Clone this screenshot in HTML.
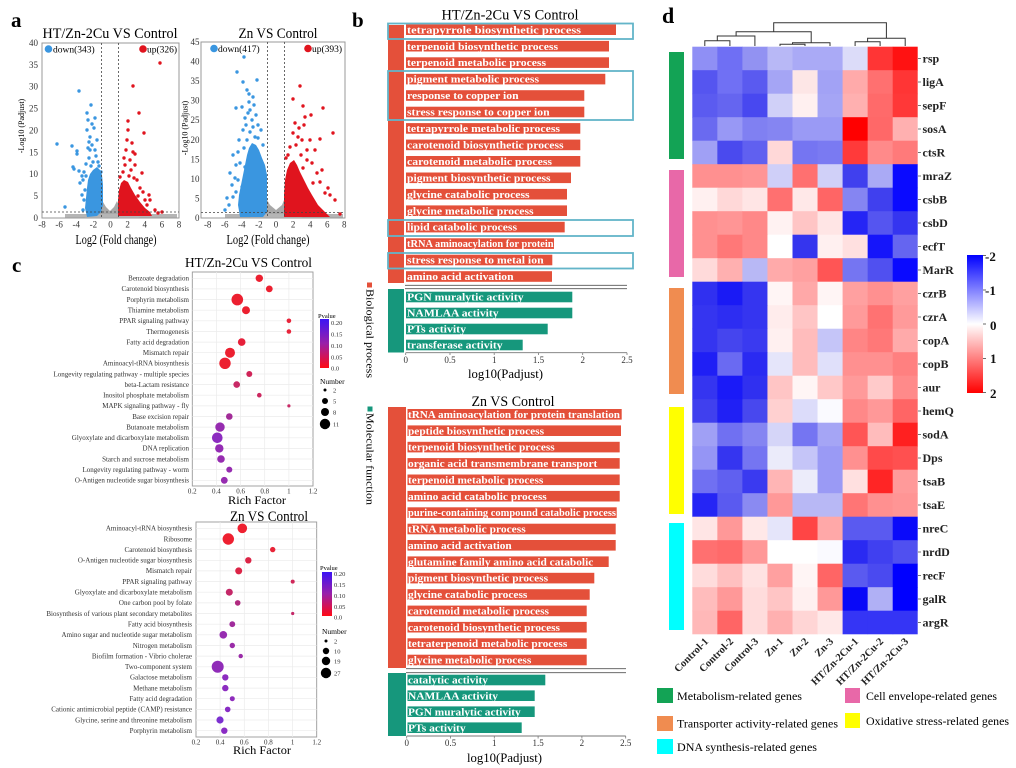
<!DOCTYPE html>
<html><head><meta charset="utf-8"><style>
html,body{margin:0;padding:0;background:#fff;}
svg{display:block;font-family:"Liberation Serif",serif;}
.bt{font-weight:bold;fill:#fff;font-size:11px;}
.cl{font-size:7px;fill:#333;text-anchor:end;}
.tk{font-size:9px;fill:#333;}
.gl{font-size:12px;font-weight:bold;fill:#222;}
</style></head><body>
<svg width="1016" height="768" viewBox="0 0 1016 768" xmlns="http://www.w3.org/2000/svg">
<defs>
<linearGradient id="pv" x1="0" y1="0" x2="0" y2="1"><stop offset="0" stop-color="#3c14f5"/><stop offset="0.5" stop-color="#9a20a8"/><stop offset="1" stop-color="#ff0a14"/></linearGradient>
<linearGradient id="hm" x1="0" y1="0" x2="0" y2="1"><stop offset="0" stop-color="#0000ff"/><stop offset="0.5" stop-color="#ffffff"/><stop offset="1" stop-color="#ff0000"/></linearGradient>
</defs>
<rect width="1016" height="768" fill="#fff"/>

<!-- ============ PANEL A ============ -->
<text x="11" y="27" font-size="21" font-weight="bold">a</text>
<text x="110" y="38" font-size="14.5" text-anchor="middle" textLength="135" lengthAdjust="spacingAndGlyphs">HT/Zn-2Cu VS Control</text>
<text x="278" y="38" font-size="14.5" text-anchor="middle" textLength="79" lengthAdjust="spacingAndGlyphs">Zn VS Control</text>

<!-- plot 1 -->
<g>
<rect x="42" y="43" width="137" height="175" fill="#fff" stroke="#999" stroke-width="1"/>
<polygon points="84,218 95,214 100,209 103,202 106,207 110,211 114,207 117,201 120,208 126,214 140,218" fill="#a8a8a8"/>
<rect x="65" y="214" width="112" height="3.5" fill="#b5b5b5"/>
<polygon points="87,217 85,208 86,198 87,188 88,180 90,174 93,170 97,167 100,170 102,175 103,185 103,205 101,212 97,216" fill="#3a96e0"/>
<g fill="#3a96e0">
<circle cx="57" cy="144" r="1.7"/><circle cx="72" cy="146" r="1.7"/><circle cx="77" cy="151" r="1.7"/><circle cx="73" cy="167" r="1.7"/><circle cx="74" cy="169" r="1.7"/><circle cx="79" cy="171" r="1.7"/><circle cx="80" cy="183" r="1.7"/><circle cx="65" cy="207" r="1.7"/><circle cx="79" cy="91" r="1.7"/><circle cx="91" cy="105" r="1.7"/><circle cx="87" cy="113" r="1.7"/><circle cx="88" cy="120" r="1.7"/><circle cx="87" cy="130" r="1.7"/><circle cx="90" cy="137" r="1.7"/><circle cx="77" cy="154" r="1.7"/><circle cx="82" cy="176" r="1.7"/><circle cx="92" cy="145" r="1.7"/><circle cx="95" cy="150" r="1.7"/><circle cx="89" cy="158" r="1.7"/><circle cx="93" cy="162" r="1.7"/><circle cx="86" cy="164" r="1.7"/><circle cx="96" cy="156" r="1.7"/><circle cx="90" cy="150" r="1.7"/><circle cx="94" cy="128" r="1.7"/><circle cx="97" cy="140" r="1.7"/><circle cx="84" cy="172" r="1.7"/><circle cx="83" cy="180" r="1.7"/><circle cx="85" cy="190" r="1.7"/><circle cx="82" cy="195" r="1.7"/><circle cx="95" cy="118" r="1.7"/><circle cx="92" cy="124" r="1.7"/><circle cx="89" cy="142" r="1.7"/><circle cx="98" cy="162" r="1.7"/><circle cx="88" cy="148" r="1.7"/><circle cx="99" cy="166" r="1.7"/><circle cx="91" cy="166" r="1.7"/><circle cx="84" cy="200" r="1.7"/><circle cx="83" cy="210" r="1.7"/><circle cx="86" cy="176" r="1.7"/><circle cx="101" cy="172" r="1.7"/>
</g>
<polygon points="118,216 118,200 119,190 121,183 124,180 128,182 131,188 135,195 140,202 145,208 150,212 152,216" fill="#e0141e"/>
<g fill="#e0141e">
<circle cx="160" cy="63" r="1.7"/><circle cx="133" cy="86" r="1.7"/><circle cx="139" cy="113" r="1.7"/><circle cx="144" cy="133" r="1.7"/><circle cx="128" cy="121" r="1.7"/><circle cx="128" cy="130" r="1.7"/><circle cx="133" cy="152" r="1.7"/><circle cx="135" cy="154" r="1.7"/><circle cx="142" cy="173" r="1.7"/><circle cx="137" cy="180" r="1.7"/><circle cx="149" cy="195" r="1.7"/><circle cx="145" cy="200" r="1.7"/><circle cx="127" cy="140" r="1.7"/><circle cx="132" cy="143" r="1.7"/><circle cx="126" cy="150" r="1.7"/><circle cx="130" cy="160" r="1.7"/><circle cx="125" cy="165" r="1.7"/><circle cx="135" cy="165" r="1.7"/><circle cx="123" cy="172" r="1.7"/><circle cx="140" cy="188" r="1.7"/><circle cx="147" cy="205" r="1.7"/><circle cx="155" cy="210" r="1.7"/><circle cx="138" cy="196" r="1.7"/><circle cx="131" cy="170" r="1.7"/><circle cx="124" cy="158" r="1.7"/><circle cx="129" cy="176" r="1.7"/><circle cx="150" cy="200" r="1.7"/><circle cx="158" cy="213" r="1.7"/><circle cx="162" cy="212" r="1.7"/><circle cx="120" cy="177" r="1.7"/><circle cx="134" cy="178" r="1.7"/><circle cx="143" cy="192" r="1.7"/><circle cx="126" cy="184" r="1.7"/>
</g>
<g stroke="#444" stroke-width="0.8" stroke-dasharray="2,2">
<line x1="101.5" y1="43" x2="101.5" y2="218"/><line x1="118.6" y1="43" x2="118.6" y2="218"/><line x1="42" y1="212" x2="179" y2="212"/>
</g>
<circle cx="48.5" cy="49" r="3.8" fill="#3a96e0"/><text x="53" y="52.5" font-size="9.5">down(343)</text>
<circle cx="143" cy="49" r="3.8" fill="#e0141e"/><text x="147" y="52.5" font-size="9.5">up(326)</text>
<g class="tk" text-anchor="end" font-size="9">
<text x="38" y="221">0</text><text x="38" y="199">5</text><text x="38" y="177">10</text><text x="38" y="155.4">15</text><text x="38" y="133.5">20</text><text x="38" y="111.6">25</text><text x="38" y="89.7">30</text><text x="38" y="67.9">35</text><text x="38" y="46">40</text>
</g>
<g class="tk" text-anchor="middle" font-size="9">
<text x="42" y="227.5">-8</text><text x="59.1" y="227.5">-6</text><text x="76.3" y="227.5">-4</text><text x="93.4" y="227.5">-2</text><text x="110.5" y="227.5">0</text><text x="127.6" y="227.5">2</text><text x="144.8" y="227.5">4</text><text x="161.9" y="227.5">6</text><text x="179" y="227.5">8</text>
</g>
<text x="116" y="244" font-size="13.5" text-anchor="middle" textLength="81" lengthAdjust="spacingAndGlyphs">Log2 (Fold change)</text>
<text transform="translate(24,126) rotate(-90)" font-size="8" text-anchor="middle">-Log10 (Padjust)</text>
</g>

<!-- plot 2 -->
<g>
<rect x="201" y="42" width="144" height="176" fill="#fff" stroke="#999" stroke-width="1"/>
<polygon points="250,218 262,210 266,198 270,205 276,210 282,205 286,195 290,210 302,218" fill="#a8a8a8"/>
<rect x="225" y="214" width="118" height="3.5" fill="#b5b5b5"/>
<polygon points="240,217 238,205 239,195 241,185 243,175 245,165 247,155 249,148 252,143 256,145 259,150 262,158 265,165 267,175 267,212 263,217" fill="#3a96e0"/>
<g fill="#3a96e0">
<circle cx="244" cy="57" r="1.7"/><circle cx="237" cy="72" r="1.7"/><circle cx="257" cy="80" r="1.7"/><circle cx="243" cy="82" r="1.7"/><circle cx="247" cy="90" r="1.7"/><circle cx="249" cy="94" r="1.7"/><circle cx="253" cy="97" r="1.7"/><circle cx="242" cy="107" r="1.7"/><circle cx="236" cy="108" r="1.7"/><circle cx="249" cy="102" r="1.7"/><circle cx="261" cy="130" r="1.7"/><circle cx="238" cy="152" r="1.7"/><circle cx="233" cy="155" r="1.7"/><circle cx="230" cy="173" r="1.7"/><circle cx="238" cy="180" r="1.7"/><circle cx="227" cy="198" r="1.7"/><circle cx="233" cy="197" r="1.7"/><circle cx="242" cy="187" r="1.7"/><circle cx="248" cy="113" r="1.7"/><circle cx="252" cy="120" r="1.7"/><circle cx="253" cy="127" r="1.7"/><circle cx="247" cy="140" r="1.7"/><circle cx="255" cy="137" r="1.7"/><circle cx="240" cy="163" r="1.7"/><circle cx="245" cy="167" r="1.7"/><circle cx="250" cy="110" r="1.7"/><circle cx="245" cy="118" r="1.7"/><circle cx="256" cy="115" r="1.7"/><circle cx="258" cy="125" r="1.7"/><circle cx="243" cy="130" r="1.7"/><circle cx="250" cy="132" r="1.7"/><circle cx="239" cy="140" r="1.7"/><circle cx="236" cy="165" r="1.7"/><circle cx="232" cy="185" r="1.7"/><circle cx="236" cy="192" r="1.7"/><circle cx="229" cy="205" r="1.7"/><circle cx="225" cy="210" r="1.7"/><circle cx="246" cy="125" r="1.7"/><circle cx="258" cy="138" r="1.7"/><circle cx="254" cy="105" r="1.7"/><circle cx="263" cy="145" r="1.7"/><circle cx="244" cy="148" r="1.7"/><circle cx="235" cy="178" r="1.7"/>
</g>
<polygon points="284,217 284,195 285,180 287,170 290,163 294,160 297,165 300,172 304,180 308,188 312,195 318,205 325,212 330,217" fill="#e0141e"/>
<g fill="#e0141e">
<circle cx="300" cy="86" r="1.7"/><circle cx="293" cy="99" r="1.7"/><circle cx="303" cy="106" r="1.7"/><circle cx="323" cy="108" r="1.7"/><circle cx="311" cy="115" r="1.7"/><circle cx="333" cy="133" r="1.7"/><circle cx="320" cy="139" r="1.7"/><circle cx="295" cy="123" r="1.7"/><circle cx="298" cy="137" r="1.7"/><circle cx="302" cy="140" r="1.7"/><circle cx="310" cy="140" r="1.7"/><circle cx="307" cy="150" r="1.7"/><circle cx="325" cy="193" r="1.7"/><circle cx="330" cy="195" r="1.7"/><circle cx="320" cy="182" r="1.7"/><circle cx="313" cy="183" r="1.7"/><circle cx="317" cy="173" r="1.7"/><circle cx="312" cy="163" r="1.7"/><circle cx="307" cy="160" r="1.7"/><circle cx="290" cy="147" r="1.7"/><circle cx="293" cy="133" r="1.7"/><circle cx="299" cy="128" r="1.7"/><circle cx="304" cy="125" r="1.7"/><circle cx="296" cy="145" r="1.7"/><circle cx="288" cy="155" r="1.7"/><circle cx="315" cy="150" r="1.7"/><circle cx="322" cy="170" r="1.7"/><circle cx="328" cy="188" r="1.7"/><circle cx="335" cy="200" r="1.7"/><circle cx="312" cy="205" r="1.7"/><circle cx="318" cy="210" r="1.7"/><circle cx="340" cy="214" r="1.7"/><circle cx="305" cy="117" r="1.7"/><circle cx="301" cy="155" r="1.7"/><circle cx="286" cy="158" r="1.7"/><circle cx="303" cy="168" r="1.7"/>
</g>
<g stroke="#444" stroke-width="0.8" stroke-dasharray="2,2">
<line x1="267.5" y1="42" x2="267.5" y2="218"/><line x1="284.5" y1="42" x2="284.5" y2="218"/><line x1="201" y1="212.5" x2="345" y2="212.5"/>
</g>
<circle cx="214" cy="48.5" r="3.8" fill="#3a96e0"/><text x="218" y="52" font-size="9.5">down(417)</text>
<circle cx="308" cy="48.5" r="3.8" fill="#e0141e"/><text x="312" y="52" font-size="9.5">up(393)</text>
<g class="tk" text-anchor="end" font-size="8.5">
<text x="199.5" y="221">0</text><text x="199.5" y="201.4">5</text><text x="199.5" y="181.9">10</text><text x="199.5" y="162.3">15</text><text x="199.5" y="142.8">20</text><text x="199.5" y="123.2">25</text><text x="199.5" y="103.7">30</text><text x="199.5" y="84.1">35</text><text x="199.5" y="64.6">40</text><text x="199.5" y="45">45</text>
</g>
<g class="tk" text-anchor="middle" font-size="9">
<text x="207.7" y="227.5">-8</text><text x="224.8" y="227.5">-6</text><text x="241.8" y="227.5">-4</text><text x="258.9" y="227.5">-2</text><text x="276" y="227.5">0</text><text x="293.1" y="227.5">2</text><text x="310.2" y="227.5">4</text><text x="327.2" y="227.5">6</text><text x="344.3" y="227.5">8</text>
</g>
<text x="268" y="244" font-size="13.5" text-anchor="middle" textLength="83" lengthAdjust="spacingAndGlyphs">Log2 (Fold change)</text>
<text transform="translate(187.5,128) rotate(-90)" font-size="8" text-anchor="middle">-Log10 (Padjust)</text>
</g>

<!-- ============ PANEL B ============ -->
<text x="352" y="27" font-size="21" font-weight="bold">b</text>
<text x="510" y="19.5" font-size="14.5" text-anchor="middle" textLength="137" lengthAdjust="spacingAndGlyphs">HT/Zn-2Cu VS Control</text>
<rect x="388" y="25" width="16" height="258" fill="#e4503a"/>
<g fill="#e4503a">
<rect x="406" y="24.4" width="210" height="10.6"/>
<rect x="406" y="40.9" width="203" height="10.6"/>
<rect x="406" y="57.3" width="203" height="10.6"/>
<rect x="406" y="73.8" width="199.3" height="10.6"/>
<rect x="406" y="90.2" width="178.3" height="10.6"/>
<rect x="406" y="106.7" width="178.3" height="10.6"/>
<rect x="406" y="123.1" width="174.3" height="10.6"/>
<rect x="406" y="139.6" width="174.3" height="10.6"/>
<rect x="406" y="156" width="174.3" height="10.6"/>
<rect x="406" y="172.5" width="165" height="10.6"/>
<rect x="406" y="188.9" width="161" height="10.6"/>
<rect x="406" y="205.4" width="161" height="10.6"/>
<rect x="406" y="221.8" width="158.7" height="10.6"/>
<rect x="406" y="238.3" width="148" height="10.6"/>
<rect x="406" y="254.7" width="146.3" height="10.6"/>
<rect x="406" y="271.2" width="146" height="10.6"/>
</g>
<g class="bt">
<text x="407" y="33.3" textLength="174" lengthAdjust="spacingAndGlyphs">tetrapyrrole biosynthetic process</text>
<text x="407" y="49.8" textLength="151" lengthAdjust="spacingAndGlyphs">terpenoid biosynthetic process</text>
<text x="407" y="66.2" textLength="139" lengthAdjust="spacingAndGlyphs">terpenoid metabolic process</text>
<text x="407" y="82.7" textLength="132" lengthAdjust="spacingAndGlyphs">pigment metabolic process</text>
<text x="407" y="99.1" textLength="111.6" lengthAdjust="spacingAndGlyphs">response to copper ion</text>
<text x="407" y="115.6" textLength="142.6" lengthAdjust="spacingAndGlyphs">stress response to copper ion</text>
<text x="407" y="132" textLength="153" lengthAdjust="spacingAndGlyphs">tetrapyrrole metabolic process</text>
<text x="407" y="148.5" textLength="156.6" lengthAdjust="spacingAndGlyphs">carotenoid biosynthetic process</text>
<text x="407" y="164.9" textLength="145" lengthAdjust="spacingAndGlyphs">carotenoid metabolic process</text>
<text x="407" y="181.4" textLength="143.6" lengthAdjust="spacingAndGlyphs">pigment biosynthetic process</text>
<text x="407" y="197.8" textLength="122.6" lengthAdjust="spacingAndGlyphs">glycine catabolic process</text>
<text x="407" y="214.3" textLength="126.6" lengthAdjust="spacingAndGlyphs">glycine metabolic process</text>
<text x="407" y="230.7" textLength="110" lengthAdjust="spacingAndGlyphs">lipid catabolic process</text>
<text x="407" y="247.2" textLength="146.6" lengthAdjust="spacingAndGlyphs">tRNA aminoacylation for protein</text>
<text x="407" y="263.6" textLength="136.6" lengthAdjust="spacingAndGlyphs">stress response to metal ion</text>
<text x="407" y="280.1" textLength="106.6" lengthAdjust="spacingAndGlyphs">amino acid activation</text>
</g>
<line x1="405" y1="285.3" x2="627" y2="285.3" stroke="#555" stroke-width="0.9"/>
<line x1="405" y1="288.7" x2="627" y2="288.7" stroke="#555" stroke-width="0.9"/>
<rect x="388" y="289" width="16" height="63.5" fill="#16977c"/>
<g fill="#16977c">
<rect x="406" y="291.7" width="166.3" height="10.6"/>
<rect x="406" y="307.7" width="166.3" height="10.6"/>
<rect x="406" y="323.7" width="141.7" height="10.6"/>
<rect x="406" y="339.7" width="116.7" height="10.6"/>
</g>
<g class="bt">
<text x="407" y="300.6" textLength="116.6" lengthAdjust="spacingAndGlyphs">PGN muralytic activity</text>
<text x="407" y="316.6" textLength="91.6" lengthAdjust="spacingAndGlyphs">NAMLAA activity</text>
<text x="407" y="332.6" textLength="59" lengthAdjust="spacingAndGlyphs">PTs activity</text>
<text x="407" y="348.6" textLength="95.6" lengthAdjust="spacingAndGlyphs">transferase activity</text>
</g>
<g fill="none" stroke="#63b5c9" stroke-width="1.8">
<rect x="388" y="23.5" width="245" height="15.5"/>
<rect x="388" y="71" width="245" height="49"/>
<rect x="388" y="220" width="245" height="16"/>
<rect x="388" y="253" width="245" height="15.5"/>
</g>
<line x1="405.7" y1="352.7" x2="627" y2="352.7" stroke="#777" stroke-width="0.9"/>
<g stroke="#777" stroke-width="0.8">
<line x1="405.7" y1="352.7" x2="405.7" y2="355"/><line x1="450" y1="352.7" x2="450" y2="355"/><line x1="494.2" y1="352.7" x2="494.2" y2="355"/><line x1="538.5" y1="352.7" x2="538.5" y2="355"/><line x1="582.7" y1="352.7" x2="582.7" y2="355"/><line x1="627" y1="352.7" x2="627" y2="355"/>
</g>
<g class="tk" text-anchor="middle" font-size="9">
<text x="405.7" y="363">0</text><text x="450" y="363">0.5</text><text x="494.2" y="363">1</text><text x="538.5" y="363">1.5</text><text x="582.7" y="363">2</text><text x="627" y="363">2.5</text>
</g>
<text x="505.5" y="378" font-size="12.5" text-anchor="middle" textLength="75" lengthAdjust="spacingAndGlyphs">log10(Padjust)</text>

<rect x="367" y="282.5" width="5" height="5" fill="#e4503a"/>
<text transform="translate(366.5,289) rotate(90)" font-size="11" textLength="89" lengthAdjust="spacingAndGlyphs">Biological process</text>
<rect x="367.5" y="406.5" width="5" height="5" fill="#16977c"/>
<text transform="translate(366.5,413) rotate(90)" font-size="11" textLength="92" lengthAdjust="spacingAndGlyphs">Molecular function</text>

<!-- Zn chart -->
<text x="513" y="406" font-size="14.5" text-anchor="middle" textLength="83" lengthAdjust="spacingAndGlyphs">Zn VS Control</text>
<rect x="388" y="407" width="18" height="261" fill="#e4503a"/>
<g fill="#e4503a">
<rect x="407.5" y="409" width="214.2" height="10.6"/>
<rect x="407.5" y="425.4" width="213.5" height="10.6"/>
<rect x="407.5" y="441.8" width="212.2" height="10.6"/>
<rect x="407.5" y="458.1" width="212.2" height="10.6"/>
<rect x="407.5" y="474.5" width="212.2" height="10.6"/>
<rect x="407.5" y="490.9" width="212.2" height="10.6"/>
<rect x="407.5" y="507.3" width="209.2" height="10.6"/>
<rect x="407.5" y="523.7" width="208.2" height="10.6"/>
<rect x="407.5" y="540" width="208.2" height="10.6"/>
<rect x="407.5" y="556.4" width="201.2" height="10.6"/>
<rect x="407.5" y="572.8" width="186.8" height="10.6"/>
<rect x="407.5" y="589.2" width="182.2" height="10.6"/>
<rect x="407.5" y="605.6" width="179.2" height="10.6"/>
<rect x="407.5" y="621.9" width="179.2" height="10.6"/>
<rect x="407.5" y="638.3" width="179.2" height="10.6"/>
<rect x="407.5" y="654.7" width="179.2" height="10.6"/>
</g>
<g class="bt">
<text x="408" y="417.9" textLength="212" lengthAdjust="spacingAndGlyphs">tRNA aminoacylation for protein translation</text>
<text x="408" y="434.3" textLength="136" lengthAdjust="spacingAndGlyphs">peptide biosynthetic process</text>
<text x="408" y="450.7" textLength="146.7" lengthAdjust="spacingAndGlyphs">terpenoid biosynthetic process</text>
<text x="408" y="467" textLength="189.3" lengthAdjust="spacingAndGlyphs">organic acid transmembrane transport</text>
<text x="408" y="483.4" textLength="135.3" lengthAdjust="spacingAndGlyphs">terpenoid metabolic process</text>
<text x="408" y="499.8" textLength="138.7" lengthAdjust="spacingAndGlyphs">amino acid catabolic process</text>
<text x="408" y="516.2" textLength="208" lengthAdjust="spacingAndGlyphs">purine-containing compound catabolic process</text>
<text x="408" y="532.6" textLength="117.7" lengthAdjust="spacingAndGlyphs">tRNA metabolic process</text>
<text x="408" y="548.9" textLength="103.7" lengthAdjust="spacingAndGlyphs">amino acid activation</text>
<text x="408" y="565.3" textLength="185.3" lengthAdjust="spacingAndGlyphs">glutamine family amino acid catabolic</text>
<text x="408" y="581.7" textLength="140" lengthAdjust="spacingAndGlyphs">pigment biosynthetic process</text>
<text x="408" y="598.1" textLength="119.3" lengthAdjust="spacingAndGlyphs">glycine catabolic process</text>
<text x="408" y="614.5" textLength="141" lengthAdjust="spacingAndGlyphs">carotenoid metabolic process</text>
<text x="408" y="630.8" textLength="152" lengthAdjust="spacingAndGlyphs">carotenoid biosynthetic process</text>
<text x="408" y="647.2" textLength="159.3" lengthAdjust="spacingAndGlyphs">tetraterpenoid metabolic process</text>
<text x="408" y="663.6" textLength="123.3" lengthAdjust="spacingAndGlyphs">glycine metabolic process</text>
</g>
<line x1="406" y1="668.7" x2="626" y2="668.7" stroke="#555" stroke-width="0.9"/>
<line x1="406" y1="672.7" x2="626" y2="672.7" stroke="#555" stroke-width="0.9"/>
<rect x="388" y="673" width="18" height="63" fill="#16977c"/>
<g fill="#16977c">
<rect x="407.5" y="674.7" width="137.8" height="10.6"/>
<rect x="407.5" y="690.4" width="127.2" height="10.6"/>
<rect x="407.5" y="706.4" width="127.2" height="10.6"/>
<rect x="407.5" y="722.4" width="114.2" height="10.6"/>
</g>
<g class="bt">
<text x="408" y="683.6" textLength="80" lengthAdjust="spacingAndGlyphs">catalytic activity</text>
<text x="408" y="699.3" textLength="90" lengthAdjust="spacingAndGlyphs">NAMLAA activity</text>
<text x="408" y="715.3" textLength="112.7" lengthAdjust="spacingAndGlyphs">PGN muralytic activity</text>
<text x="408" y="731.3" textLength="57.7" lengthAdjust="spacingAndGlyphs">PTs activity</text>
</g>
<line x1="406.7" y1="736" x2="625.7" y2="736" stroke="#777" stroke-width="0.9"/>
<g stroke="#777" stroke-width="0.8">
<line x1="406.7" y1="736" x2="406.7" y2="738.5"/><line x1="450.5" y1="736" x2="450.5" y2="738.5"/><line x1="494.3" y1="736" x2="494.3" y2="738.5"/><line x1="538.1" y1="736" x2="538.1" y2="738.5"/><line x1="581.9" y1="736" x2="581.9" y2="738.5"/><line x1="625.7" y1="736" x2="625.7" y2="738.5"/>
</g>
<g class="tk" text-anchor="middle" font-size="9">
<text x="406.7" y="746">0</text><text x="450.5" y="746">0.5</text><text x="494.3" y="746">1</text><text x="538.1" y="746">1.5</text><text x="581.9" y="746">2</text><text x="625.7" y="746">2.5</text>
</g>
<text x="504.5" y="762" font-size="12.5" text-anchor="middle" textLength="75" lengthAdjust="spacingAndGlyphs">log10(Padjust)</text>

<!-- ============ PANEL C ============ -->
<text x="12" y="272" font-size="21" font-weight="bold">c</text>
<text x="248.5" y="267" font-size="14" text-anchor="middle" textLength="127" lengthAdjust="spacingAndGlyphs">HT/Zn-2Cu VS Control</text>
<g>
<rect x="192.3" y="272" width="120.7" height="214" fill="#fff" stroke="#999" stroke-width="0.9"/>
<g stroke="#ebebeb" stroke-width="0.7">
<line x1="216.4" y1="272" x2="216.4" y2="486"/><line x1="240.6" y1="272" x2="240.6" y2="486"/><line x1="264.7" y1="272" x2="264.7" y2="486"/><line x1="288.9" y1="272" x2="288.9" y2="486"/>
<line x1="192.3" y1="278.3" x2="313" y2="278.3"/><line x1="192.3" y1="288.9" x2="313" y2="288.9"/><line x1="192.3" y1="299.6" x2="313" y2="299.6"/><line x1="192.3" y1="310.2" x2="313" y2="310.2"/><line x1="192.3" y1="320.8" x2="313" y2="320.8"/><line x1="192.3" y1="331.5" x2="313" y2="331.5"/><line x1="192.3" y1="342.1" x2="313" y2="342.1"/><line x1="192.3" y1="352.7" x2="313" y2="352.7"/><line x1="192.3" y1="363.3" x2="313" y2="363.3"/><line x1="192.3" y1="374" x2="313" y2="374"/><line x1="192.3" y1="384.6" x2="313" y2="384.6"/><line x1="192.3" y1="395.2" x2="313" y2="395.2"/><line x1="192.3" y1="405.9" x2="313" y2="405.9"/><line x1="192.3" y1="416.5" x2="313" y2="416.5"/><line x1="192.3" y1="427.1" x2="313" y2="427.1"/><line x1="192.3" y1="437.8" x2="313" y2="437.8"/><line x1="192.3" y1="448.4" x2="313" y2="448.4"/><line x1="192.3" y1="459" x2="313" y2="459"/><line x1="192.3" y1="469.6" x2="313" y2="469.6"/><line x1="192.3" y1="480.3" x2="313" y2="480.3"/>
</g>
<circle cx="259.3" cy="278.3" r="3.7" fill="#ec2030"/>
<circle cx="269.3" cy="288.9" r="3.4" fill="#ec2030"/>
<circle cx="237.3" cy="299.6" r="5.8" fill="#ec2030"/>
<circle cx="246" cy="310.2" r="4" fill="#ec2030"/>
<circle cx="288.9" cy="320.8" r="2.3" fill="#e8243a"/>
<circle cx="288.9" cy="331.5" r="2.3" fill="#e8243a"/>
<circle cx="241.7" cy="342.1" r="3.8" fill="#e6203a"/>
<circle cx="230" cy="352.7" r="5" fill="#ec2030"/>
<circle cx="225" cy="363.3" r="5.7" fill="#ec2030"/>
<circle cx="249.3" cy="374" r="3" fill="#d02458"/>
<circle cx="236.7" cy="384.6" r="3.3" fill="#c82a66"/>
<circle cx="259.3" cy="395.2" r="2.3" fill="#cc2860"/>
<circle cx="288.9" cy="405.9" r="1.6" fill="#c82a66"/>
<circle cx="229.3" cy="416.5" r="3.3" fill="#a22c98"/>
<circle cx="220" cy="427.1" r="4.7" fill="#962cb0"/>
<circle cx="217.3" cy="437.8" r="5.3" fill="#8c2cc0"/>
<circle cx="219.3" cy="448.4" r="4.2" fill="#942cb4"/>
<circle cx="221" cy="459" r="3.8" fill="#962cb0"/>
<circle cx="229.3" cy="469.6" r="3" fill="#962cb0"/>
<circle cx="224.3" cy="480.3" r="3.4" fill="#962cb0"/>
<g class="cl">
<text x="189" y="280.6">Benzoate degradation</text>
<text x="189" y="291.2">Carotenoid biosynthesis</text>
<text x="189" y="301.9">Porphyrin metabolism</text>
<text x="189" y="312.5">Thiamine metabolism</text>
<text x="189" y="323.1">PPAR signaling pathway</text>
<text x="189" y="333.8">Thermogenesis</text>
<text x="189" y="344.4">Fatty acid degradation</text>
<text x="189" y="355">Mismatch repair</text>
<text x="189" y="365.6">Aminoacyl-tRNA biosynthesis</text>
<text x="189" y="376.3">Longevity regulating pathway - multiple species</text>
<text x="189" y="386.9">beta-Lactam resistance</text>
<text x="189" y="397.5">Inositol phosphate metabolism</text>
<text x="189" y="408.2">MAPK signaling pathway - fly</text>
<text x="189" y="418.8">Base excision repair</text>
<text x="189" y="429.4">Butanoate metabolism</text>
<text x="189" y="440.1">Glyoxylate and dicarboxylate metabolism</text>
<text x="189" y="450.7">DNA replication</text>
<text x="189" y="461.3">Starch and sucrose metabolism</text>
<text x="189" y="471.9">Longevity regulating pathway - worm</text>
<text x="189" y="482.6">O-Antigen nucleotide sugar biosynthesis</text>
</g>
<g class="cl" style="text-anchor:middle">
<text x="192.3" y="493.5">0.2</text><text x="216.4" y="493.5">0.4</text><text x="240.6" y="493.5">0.6</text><text x="264.7" y="493.5">0.8</text><text x="288.9" y="493.5">1</text><text x="313" y="493.5">1.2</text>
</g>
<text x="257" y="504" font-size="12" text-anchor="middle" textLength="58" lengthAdjust="spacingAndGlyphs">Rich Factor</text>
<text x="318" y="318" font-size="6.5">Pvalue</text>
<rect x="320" y="319" width="9" height="49" fill="url(#pv)"/>
<g font-size="6.5" fill="#333">
<text x="331" y="325">0.20</text><text x="331" y="336.5">0.15</text><text x="331" y="348">0.10</text><text x="331" y="359.5">0.05</text><text x="331" y="370.5">0.0</text>
</g>
<text x="320" y="384" font-size="7.5">Number</text>
<circle cx="325" cy="390" r="1.5" fill="#000"/><circle cx="325" cy="401" r="3" fill="#000"/><circle cx="325" cy="412" r="4" fill="#000"/><circle cx="325" cy="424" r="5.2" fill="#000"/>
<g font-size="6.5" fill="#333"><text x="333" y="392.5">2</text><text x="333" y="403.5">5</text><text x="333" y="414.5">8</text><text x="333" y="426.5">11</text></g>
</g>

<g>
<text x="269" y="521" font-size="14.5" text-anchor="middle" textLength="78" lengthAdjust="spacingAndGlyphs">Zn VS Control</text>
<rect x="196" y="522" width="120.7" height="215" fill="#fff" stroke="#999" stroke-width="0.9"/>
<g stroke="#ebebeb" stroke-width="0.7">
<line x1="220.1" y1="522" x2="220.1" y2="737"/><line x1="244.3" y1="522" x2="244.3" y2="737"/><line x1="268.4" y1="522" x2="268.4" y2="737"/><line x1="292.6" y1="522" x2="292.6" y2="737"/>
<line x1="196" y1="528.3" x2="316.7" y2="528.3"/><line x1="196" y1="539" x2="316.7" y2="539"/><line x1="196" y1="549.6" x2="316.7" y2="549.6"/><line x1="196" y1="560.3" x2="316.7" y2="560.3"/><line x1="196" y1="570.9" x2="316.7" y2="570.9"/><line x1="196" y1="581.6" x2="316.7" y2="581.6"/><line x1="196" y1="592.2" x2="316.7" y2="592.2"/><line x1="196" y1="602.9" x2="316.7" y2="602.9"/><line x1="196" y1="613.5" x2="316.7" y2="613.5"/><line x1="196" y1="624.2" x2="316.7" y2="624.2"/><line x1="196" y1="634.8" x2="316.7" y2="634.8"/><line x1="196" y1="645.5" x2="316.7" y2="645.5"/><line x1="196" y1="656.1" x2="316.7" y2="656.1"/><line x1="196" y1="666.8" x2="316.7" y2="666.8"/><line x1="196" y1="677.4" x2="316.7" y2="677.4"/><line x1="196" y1="688.1" x2="316.7" y2="688.1"/><line x1="196" y1="698.7" x2="316.7" y2="698.7"/><line x1="196" y1="709.4" x2="316.7" y2="709.4"/><line x1="196" y1="720" x2="316.7" y2="720"/><line x1="196" y1="730.7" x2="316.7" y2="730.7"/>
</g>
<circle cx="242.3" cy="528.3" r="4.8" fill="#ee2030"/>
<circle cx="228.3" cy="539" r="5.7" fill="#ee2030"/>
<circle cx="272.7" cy="549.6" r="2.7" fill="#e82438"/>
<circle cx="248.3" cy="560.3" r="3.2" fill="#dc2446"/>
<circle cx="238.7" cy="570.9" r="3.5" fill="#dc2446"/>
<circle cx="292.7" cy="581.6" r="2" fill="#d0285a"/>
<circle cx="229.3" cy="592.2" r="3.5" fill="#c42868"/>
<circle cx="237.7" cy="602.9" r="2.8" fill="#b02a80"/>
<circle cx="292.7" cy="613.5" r="1.6" fill="#c42868"/>
<circle cx="232.3" cy="624.2" r="2.9" fill="#a02c9c"/>
<circle cx="223.3" cy="634.8" r="3.8" fill="#962cb0"/>
<circle cx="232.3" cy="645.5" r="2.7" fill="#9a2ca8"/>
<circle cx="240.7" cy="656.1" r="2.2" fill="#9a2ca8"/>
<circle cx="217.7" cy="666.8" r="6" fill="#902cb8"/>
<circle cx="225.3" cy="677.4" r="3.2" fill="#8c2cc0"/>
<circle cx="225.3" cy="688.1" r="3.2" fill="#8c2cc0"/>
<circle cx="232.3" cy="698.7" r="2.5" fill="#8e2cbc"/>
<circle cx="227.7" cy="709.4" r="2.8" fill="#882cc4"/>
<circle cx="220" cy="720" r="3.6" fill="#7c30d0"/>
<circle cx="224.3" cy="730.7" r="3.2" fill="#8a2cc4"/>
<g class="cl">
<text x="192" y="530.6">Aminoacyl-tRNA biosynthesis</text>
<text x="192" y="541.3">Ribosome</text>
<text x="192" y="551.9">Carotenoid biosynthesis</text>
<text x="192" y="562.6">O-Antigen nucleotide sugar biosynthesis</text>
<text x="192" y="573.2">Mismatch repair</text>
<text x="192" y="583.9">PPAR signaling pathway</text>
<text x="192" y="594.5">Glyoxylate and dicarboxylate metabolism</text>
<text x="192" y="605.2">One carbon pool by folate</text>
<text x="192" y="615.8">Biosynthesis of various plant secondary metabolites</text>
<text x="192" y="626.5">Fatty acid biosynthesis</text>
<text x="192" y="637.1">Amino sugar and nucleotide sugar metabolism</text>
<text x="192" y="647.8">Nitrogen metabolism</text>
<text x="192" y="658.4">Biofilm formation - Vibrio cholerae</text>
<text x="192" y="669.1">Two-component system</text>
<text x="192" y="679.7">Galactose metabolism</text>
<text x="192" y="690.4">Methane metabolism</text>
<text x="192" y="701">Fatty acid degradation</text>
<text x="192" y="711.7">Cationic antimicrobial peptide (CAMP) resistance</text>
<text x="192" y="722.3">Glycine, serine and threonine metabolism</text>
<text x="192" y="733">Porphyrin metabolism</text>
</g>
<g class="cl" style="text-anchor:middle">
<text x="196" y="744.5">0.2</text><text x="220.1" y="744.5">0.4</text><text x="244.3" y="744.5">0.6</text><text x="268.4" y="744.5">0.8</text><text x="292.6" y="744.5">1</text><text x="316.7" y="744.5">1.2</text>
</g>
<text x="262" y="754" font-size="12" text-anchor="middle" textLength="58" lengthAdjust="spacingAndGlyphs">Rich Factor</text>
<text x="320" y="570" font-size="6.5">Pvalue</text>
<rect x="322" y="572" width="10" height="44" fill="url(#pv)"/>
<g font-size="6.5" fill="#333">
<text x="334" y="576">0.20</text><text x="334" y="587">0.15</text><text x="334" y="598">0.10</text><text x="334" y="609">0.05</text><text x="334" y="619.5">0.0</text>
</g>
<text x="322" y="634" font-size="7.5">Number</text>
<circle cx="326" cy="641" r="1.5" fill="#000"/><circle cx="326" cy="651" r="3.2" fill="#000"/><circle cx="326" cy="661" r="4.2" fill="#000"/><circle cx="326" cy="673" r="5.2" fill="#000"/>
<g font-size="6.5" fill="#333"><text x="334" y="643.5">2</text><text x="334" y="653.5">10</text><text x="334" y="663.5">19</text><text x="334" y="675.5">27</text></g>
</g>

<!-- ============ PANEL D ============ -->
<text x="662" y="23" font-size="22" font-weight="bold">d</text>
<g stroke="#333" stroke-width="1" fill="none">
<path d="M704.8,46 V40.7 H729.9 V46"/>
<path d="M717.3,40.7 V36 H754.9 V46"/>
<path d="M780,46 V44.3 H805 V46"/>
<path d="M792.5,44.3 V42.7 H830 V46"/>
<path d="M736.1,36 V31.7 H811.2 V42.7"/>
<path d="M855.1,46 V41.7 H880.1 V46"/>
<path d="M867.6,41.7 V38.3 H905.2 V46"/>
<path d="M773.7,31.7 V22.7 H886.4 V38.3"/>
</g>
<g>
<g transform="translate(0,46.7)"><rect x="692.3" width="25.5" height="24" fill="#8f8ff5"/><rect x="717.35" width="25.5" height="24" fill="#6f6ff4"/><rect x="742.4" width="25.5" height="24" fill="#9292f2"/><rect x="767.45" width="25.5" height="24" fill="#b8b8f6"/><rect x="792.5" width="25.5" height="24" fill="#aaaaf6"/><rect x="817.55" width="25.5" height="24" fill="#aaaaf6"/><rect x="842.6" width="25.5" height="24" fill="#dcdcf9"/><rect x="867.65" width="25.5" height="24" fill="#ff3535"/><rect x="892.7" width="25" height="24" fill="#ff1212"/></g>
<g transform="translate(0,70.2)"><rect x="692.3" width="25.5" height="24" fill="#5555f0"/><rect x="717.35" width="25.5" height="24" fill="#7070f4"/><rect x="742.4" width="25.5" height="24" fill="#5a5af0"/><rect x="767.45" width="25.5" height="24" fill="#a5a5f5"/><rect x="792.5" width="25.5" height="24" fill="#fde6e6"/><rect x="817.55" width="25.5" height="24" fill="#a2a2f5"/><rect x="842.6" width="25.5" height="24" fill="#ffaaaa"/><rect x="867.65" width="25.5" height="24" fill="#ff7070"/><rect x="892.7" width="25" height="24" fill="#ff3535"/></g>
<g transform="translate(0,93.7)"><rect x="692.3" width="25.5" height="24" fill="#5b5bf0"/><rect x="717.35" width="25.5" height="24" fill="#6565f0"/><rect x="742.4" width="25.5" height="24" fill="#4848f0"/><rect x="767.45" width="25.5" height="24" fill="#d0d0f8"/><rect x="792.5" width="25.5" height="24" fill="#fff0f0"/><rect x="817.55" width="25.5" height="24" fill="#a5a5f5"/><rect x="842.6" width="25.5" height="24" fill="#ffb0b0"/><rect x="867.65" width="25.5" height="24" fill="#ff6a6a"/><rect x="892.7" width="25" height="24" fill="#ff3838"/></g>
<g transform="translate(0,117.2)"><rect x="692.3" width="25.5" height="24" fill="#6a6af0"/><rect x="717.35" width="25.5" height="24" fill="#9898f5"/><rect x="742.4" width="25.5" height="24" fill="#8080f2"/><rect x="767.45" width="25.5" height="24" fill="#8585f2"/><rect x="792.5" width="25.5" height="24" fill="#9a9af5"/><rect x="817.55" width="25.5" height="24" fill="#9a9af5"/><rect x="842.6" width="25.5" height="24" fill="#ff0000"/><rect x="867.65" width="25.5" height="24" fill="#ff6868"/><rect x="892.7" width="25" height="24" fill="#ffb0b0"/></g>
<g transform="translate(0,140.7)"><rect x="692.3" width="25.5" height="24" fill="#a0a0f5"/><rect x="717.35" width="25.5" height="24" fill="#4a4aee"/><rect x="742.4" width="25.5" height="24" fill="#6060f0"/><rect x="767.45" width="25.5" height="24" fill="#ffd8d8"/><rect x="792.5" width="25.5" height="24" fill="#7575f2"/><rect x="817.55" width="25.5" height="24" fill="#7a7af2"/><rect x="842.6" width="25.5" height="24" fill="#ff3a3a"/><rect x="867.65" width="25.5" height="24" fill="#ff8a8a"/><rect x="892.7" width="25" height="24" fill="#ff7a7a"/></g>
<g transform="translate(0,164.2)"><rect x="692.3" width="25.5" height="24" fill="#ff9090"/><rect x="717.35" width="25.5" height="24" fill="#ff9090"/><rect x="742.4" width="25.5" height="24" fill="#ff9595"/><rect x="767.45" width="25.5" height="24" fill="#cfcff8"/><rect x="792.5" width="25.5" height="24" fill="#ff7070"/><rect x="817.55" width="25.5" height="24" fill="#d0d0f8"/><rect x="842.6" width="25.5" height="24" fill="#4040ee"/><rect x="867.65" width="25.5" height="24" fill="#aaaaf5"/><rect x="892.7" width="25" height="24" fill="#0a0aff"/></g>
<g transform="translate(0,187.7)"><rect x="692.3" width="25.5" height="24" fill="#fff0f0"/><rect x="717.35" width="25.5" height="24" fill="#ffd8d8"/><rect x="742.4" width="25.5" height="24" fill="#ffe5e5"/><rect x="767.45" width="25.5" height="24" fill="#ff7070"/><rect x="792.5" width="25.5" height="24" fill="#ffe8e8"/><rect x="817.55" width="25.5" height="24" fill="#ff6565"/><rect x="842.6" width="25.5" height="24" fill="#8585f2"/><rect x="867.65" width="25.5" height="24" fill="#4040ee"/><rect x="892.7" width="25" height="24" fill="#0a0aff"/></g>
<g transform="translate(0,211.2)"><rect x="692.3" width="25.5" height="24" fill="#ff9090"/><rect x="717.35" width="25.5" height="24" fill="#ff9595"/><rect x="742.4" width="25.5" height="24" fill="#ff8888"/><rect x="767.45" width="25.5" height="24" fill="#fff2f2"/><rect x="792.5" width="25.5" height="24" fill="#ffc5c5"/><rect x="817.55" width="25.5" height="24" fill="#ffe5e5"/><rect x="842.6" width="25.5" height="24" fill="#2525f5"/><rect x="867.65" width="25.5" height="24" fill="#5555f0"/><rect x="892.7" width="25" height="24" fill="#3535f0"/></g>
<g transform="translate(0,234.7)"><rect x="692.3" width="25.5" height="24" fill="#ff9090"/><rect x="717.35" width="25.5" height="24" fill="#ff7878"/><rect x="742.4" width="25.5" height="24" fill="#ff8888"/><rect x="767.45" width="25.5" height="24" fill="#ffffff"/><rect x="792.5" width="25.5" height="24" fill="#3535ee"/><rect x="817.55" width="25.5" height="24" fill="#fff0f0"/><rect x="842.6" width="25.5" height="24" fill="#ffe0e0"/><rect x="867.65" width="25.5" height="24" fill="#1515fa"/><rect x="892.7" width="25" height="24" fill="#6565f0"/></g>
<g transform="translate(0,258.2)"><rect x="692.3" width="25.5" height="24" fill="#ffdada"/><rect x="717.35" width="25.5" height="24" fill="#ffb0b0"/><rect x="742.4" width="25.5" height="24" fill="#b8b8f5"/><rect x="767.45" width="25.5" height="24" fill="#ffaaaa"/><rect x="792.5" width="25.5" height="24" fill="#ffa0a0"/><rect x="817.55" width="25.5" height="24" fill="#ff5555"/><rect x="842.6" width="25.5" height="24" fill="#7575f2"/><rect x="867.65" width="25.5" height="24" fill="#5050f0"/><rect x="892.7" width="25" height="24" fill="#0a0aff"/></g>
<g transform="translate(0,281.7)"><rect x="692.3" width="25.5" height="24" fill="#3030f0"/><rect x="717.35" width="25.5" height="24" fill="#1a1af5"/><rect x="742.4" width="25.5" height="24" fill="#3535f0"/><rect x="767.45" width="25.5" height="24" fill="#fff5f5"/><rect x="792.5" width="25.5" height="24" fill="#ffa8a8"/><rect x="817.55" width="25.5" height="24" fill="#fff5f5"/><rect x="842.6" width="25.5" height="24" fill="#ffa0a0"/><rect x="867.65" width="25.5" height="24" fill="#ff9090"/><rect x="892.7" width="25" height="24" fill="#ffa0a0"/></g>
<g transform="translate(0,305.2)"><rect x="692.3" width="25.5" height="24" fill="#3535f0"/><rect x="717.35" width="25.5" height="24" fill="#2d2df2"/><rect x="742.4" width="25.5" height="24" fill="#3535f0"/><rect x="767.45" width="25.5" height="24" fill="#ffecec"/><rect x="792.5" width="25.5" height="24" fill="#ffc5c5"/><rect x="817.55" width="25.5" height="24" fill="#ffffff"/><rect x="842.6" width="25.5" height="24" fill="#ff9a9a"/><rect x="867.65" width="25.5" height="24" fill="#ff7272"/><rect x="892.7" width="25" height="24" fill="#ff9a9a"/></g>
<g transform="translate(0,328.7)"><rect x="692.3" width="25.5" height="24" fill="#3535f0"/><rect x="717.35" width="25.5" height="24" fill="#4545ee"/><rect x="742.4" width="25.5" height="24" fill="#3a3af0"/><rect x="767.45" width="25.5" height="24" fill="#fff0f0"/><rect x="792.5" width="25.5" height="24" fill="#ffbcbc"/><rect x="817.55" width="25.5" height="24" fill="#c5c5f8"/><rect x="842.6" width="25.5" height="24" fill="#ff8585"/><rect x="867.65" width="25.5" height="24" fill="#ff7878"/><rect x="892.7" width="25" height="24" fill="#ffaaaa"/></g>
<g transform="translate(0,352.2)"><rect x="692.3" width="25.5" height="24" fill="#1f1ff5"/><rect x="717.35" width="25.5" height="24" fill="#6a6af2"/><rect x="742.4" width="25.5" height="24" fill="#2a2af2"/><rect x="767.45" width="25.5" height="24" fill="#e5e5fa"/><rect x="792.5" width="25.5" height="24" fill="#ffbcbc"/><rect x="817.55" width="25.5" height="24" fill="#e0e0fa"/><rect x="842.6" width="25.5" height="24" fill="#ff9090"/><rect x="867.65" width="25.5" height="24" fill="#ff9090"/><rect x="892.7" width="25" height="24" fill="#ff8080"/></g>
<g transform="translate(0,375.7)"><rect x="692.3" width="25.5" height="24" fill="#3535f0"/><rect x="717.35" width="25.5" height="24" fill="#1a1af8"/><rect x="742.4" width="25.5" height="24" fill="#3030f0"/><rect x="767.45" width="25.5" height="24" fill="#ffc5c5"/><rect x="792.5" width="25.5" height="24" fill="#fff5f5"/><rect x="817.55" width="25.5" height="24" fill="#ffc8c8"/><rect x="842.6" width="25.5" height="24" fill="#ff9a9a"/><rect x="867.65" width="25.5" height="24" fill="#ffcaca"/><rect x="892.7" width="25" height="24" fill="#ff8a8a"/></g>
<g transform="translate(0,399.2)"><rect x="692.3" width="25.5" height="24" fill="#4040ee"/><rect x="717.35" width="25.5" height="24" fill="#2020f5"/><rect x="742.4" width="25.5" height="24" fill="#4848ee"/><rect x="767.45" width="25.5" height="24" fill="#ffd0d0"/><rect x="792.5" width="25.5" height="24" fill="#dcdcfa"/><rect x="817.55" width="25.5" height="24" fill="#fafaff"/><rect x="842.6" width="25.5" height="24" fill="#ff8888"/><rect x="867.65" width="25.5" height="24" fill="#ff9898"/><rect x="892.7" width="25" height="24" fill="#ff6565"/></g>
<g transform="translate(0,422.7)"><rect x="692.3" width="25.5" height="24" fill="#a0a0f5"/><rect x="717.35" width="25.5" height="24" fill="#7070f2"/><rect x="742.4" width="25.5" height="24" fill="#8585f2"/><rect x="767.45" width="25.5" height="24" fill="#d5d5f8"/><rect x="792.5" width="25.5" height="24" fill="#7575f2"/><rect x="817.55" width="25.5" height="24" fill="#a5a5f5"/><rect x="842.6" width="25.5" height="24" fill="#ff5555"/><rect x="867.65" width="25.5" height="24" fill="#ffbcbc"/><rect x="892.7" width="25" height="24" fill="#ff2020"/></g>
<g transform="translate(0,446.2)"><rect x="692.3" width="25.5" height="24" fill="#9595f5"/><rect x="717.35" width="25.5" height="24" fill="#3535f0"/><rect x="742.4" width="25.5" height="24" fill="#7575f2"/><rect x="767.45" width="25.5" height="24" fill="#ebebfa"/><rect x="792.5" width="25.5" height="24" fill="#c5c5f8"/><rect x="817.55" width="25.5" height="24" fill="#9a9af5"/><rect x="842.6" width="25.5" height="24" fill="#ff9090"/><rect x="867.65" width="25.5" height="24" fill="#ff4a4a"/><rect x="892.7" width="25" height="24" fill="#ff5050"/></g>
<g transform="translate(0,469.7)"><rect x="692.3" width="25.5" height="24" fill="#7070f2"/><rect x="717.35" width="25.5" height="24" fill="#6060f0"/><rect x="742.4" width="25.5" height="24" fill="#3a3af0"/><rect x="767.45" width="25.5" height="24" fill="#ffb5b5"/><rect x="792.5" width="25.5" height="24" fill="#ececfa"/><rect x="817.55" width="25.5" height="24" fill="#9a9af5"/><rect x="842.6" width="25.5" height="24" fill="#ffe0e0"/><rect x="867.65" width="25.5" height="24" fill="#ff2525"/><rect x="892.7" width="25" height="24" fill="#ff9a9a"/></g>
<g transform="translate(0,493.2)"><rect x="692.3" width="25.5" height="24" fill="#2525f5"/><rect x="717.35" width="25.5" height="24" fill="#5a5af0"/><rect x="742.4" width="25.5" height="24" fill="#8a8af2"/><rect x="767.45" width="25.5" height="24" fill="#ff9898"/><rect x="792.5" width="25.5" height="24" fill="#b8b8f5"/><rect x="817.55" width="25.5" height="24" fill="#b8b8f5"/><rect x="842.6" width="25.5" height="24" fill="#ff7575"/><rect x="867.65" width="25.5" height="24" fill="#ff9090"/><rect x="892.7" width="25" height="24" fill="#ff9595"/></g>
<g transform="translate(0,516.7)"><rect x="692.3" width="25.5" height="24" fill="#ffe5e5"/><rect x="717.35" width="25.5" height="24" fill="#ff9898"/><rect x="742.4" width="25.5" height="24" fill="#ffe8e8"/><rect x="767.45" width="25.5" height="24" fill="#e5e5fa"/><rect x="792.5" width="25.5" height="24" fill="#ff4545"/><rect x="817.55" width="25.5" height="24" fill="#ffa8a8"/><rect x="842.6" width="25.5" height="24" fill="#5a5af0"/><rect x="867.65" width="25.5" height="24" fill="#5a5af0"/><rect x="892.7" width="25" height="24" fill="#0a0afa"/></g>
<g transform="translate(0,540.2)"><rect x="692.3" width="25.5" height="24" fill="#ff7070"/><rect x="717.35" width="25.5" height="24" fill="#ff6a6a"/><rect x="742.4" width="25.5" height="24" fill="#ff9898"/><rect x="767.45" width="25.5" height="24" fill="#ffffff"/><rect x="792.5" width="25.5" height="24" fill="#ffffff"/><rect x="817.55" width="25.5" height="24" fill="#fafaff"/><rect x="842.6" width="25.5" height="24" fill="#2a2af2"/><rect x="867.65" width="25.5" height="24" fill="#4040f0"/><rect x="892.7" width="25" height="24" fill="#5050f0"/></g>
<g transform="translate(0,563.7)"><rect x="692.3" width="25.5" height="24" fill="#ffdcdc"/><rect x="717.35" width="25.5" height="24" fill="#ffc0c0"/><rect x="742.4" width="25.5" height="24" fill="#ffe2e2"/><rect x="767.45" width="25.5" height="24" fill="#ffa0a0"/><rect x="792.5" width="25.5" height="24" fill="#fff5f5"/><rect x="817.55" width="25.5" height="24" fill="#ff6565"/><rect x="842.6" width="25.5" height="24" fill="#5a5af0"/><rect x="867.65" width="25.5" height="24" fill="#4a4af0"/><rect x="892.7" width="25" height="24" fill="#0000ff"/></g>
<g transform="translate(0,587.2)"><rect x="692.3" width="25.5" height="24" fill="#ffbcbc"/><rect x="717.35" width="25.5" height="24" fill="#ff9898"/><rect x="742.4" width="25.5" height="24" fill="#ffdcdc"/><rect x="767.45" width="25.5" height="24" fill="#ffc5c5"/><rect x="792.5" width="25.5" height="24" fill="#fff0f0"/><rect x="817.55" width="25.5" height="24" fill="#ff9898"/><rect x="842.6" width="25.5" height="24" fill="#0808f8"/><rect x="867.65" width="25.5" height="24" fill="#b0b0f5"/><rect x="892.7" width="25" height="24" fill="#0000ff"/></g>
<g transform="translate(0,610.7)"><rect x="692.3" width="25.5" height="23.6" fill="#ffb8b8"/><rect x="717.35" width="25.5" height="23.6" fill="#ff6565"/><rect x="742.4" width="25.5" height="23.6" fill="#ffdcdc"/><rect x="767.45" width="25.5" height="23.6" fill="#ffb0b0"/><rect x="792.5" width="25.5" height="23.6" fill="#ffd5d5"/><rect x="817.55" width="25.5" height="23.6" fill="#ffe8e8"/><rect x="842.6" width="25.5" height="23.6" fill="#3535f5"/><rect x="867.65" width="25.5" height="23.6" fill="#3535f5"/><rect x="892.7" width="25" height="23.6" fill="#3535f5"/></g>
</g>
<rect x="669" y="52" width="15" height="107" fill="#13a355"/>
<rect x="669" y="170" width="15" height="107" fill="#e868a8"/>
<rect x="669" y="288" width="15" height="106" fill="#f08c50"/>
<rect x="669" y="407" width="15" height="107" fill="#ffff00"/>
<rect x="669" y="523" width="15" height="107" fill="#00ffff"/>
<g stroke="#555" stroke-width="0.8">
<line x1="918" y1="58.5" x2="921" y2="58.5"/><line x1="918" y1="82" x2="921" y2="82"/><line x1="918" y1="105.5" x2="921" y2="105.5"/><line x1="918" y1="129" x2="921" y2="129"/><line x1="918" y1="152.5" x2="921" y2="152.5"/><line x1="918" y1="176" x2="921" y2="176"/><line x1="918" y1="199.5" x2="921" y2="199.5"/><line x1="918" y1="223" x2="921" y2="223"/><line x1="918" y1="246.5" x2="921" y2="246.5"/><line x1="918" y1="270" x2="921" y2="270"/><line x1="918" y1="293.5" x2="921" y2="293.5"/><line x1="918" y1="317" x2="921" y2="317"/><line x1="918" y1="340.5" x2="921" y2="340.5"/><line x1="918" y1="364" x2="921" y2="364"/><line x1="918" y1="387.5" x2="921" y2="387.5"/><line x1="918" y1="411" x2="921" y2="411"/><line x1="918" y1="434.5" x2="921" y2="434.5"/><line x1="918" y1="458" x2="921" y2="458"/><line x1="918" y1="481.5" x2="921" y2="481.5"/><line x1="918" y1="505" x2="921" y2="505"/><line x1="918" y1="528.5" x2="921" y2="528.5"/><line x1="918" y1="552" x2="921" y2="552"/><line x1="918" y1="575.5" x2="921" y2="575.5"/><line x1="918" y1="599" x2="921" y2="599"/><line x1="918" y1="622.5" x2="921" y2="622.5"/>
</g>
<g class="gl">
<text x="922.5" y="62.7">rsp</text><text x="922.5" y="86.2">ligA</text><text x="922.5" y="109.7">sepF</text><text x="922.5" y="133.2">sosA</text><text x="922.5" y="156.7">ctsR</text><text x="922.5" y="180.2">mraZ</text><text x="922.5" y="203.7">csbB</text><text x="922.5" y="227.2">csbD</text><text x="922.5" y="250.7">ecfT</text><text x="922.5" y="274.2">MarR</text><text x="922.5" y="297.7">czrB</text><text x="922.5" y="321.2">czrA</text><text x="922.5" y="344.7">copA</text><text x="922.5" y="368.2">copB</text><text x="922.5" y="391.7">aur</text><text x="922.5" y="415.2">hemQ</text><text x="922.5" y="438.7">sodA</text><text x="922.5" y="462.2">Dps</text><text x="922.5" y="485.7">tsaB</text><text x="922.5" y="509.2">tsaE</text><text x="922.5" y="532.7">nreC</text><text x="922.5" y="556.2">nrdD</text><text x="922.5" y="579.7">recF</text><text x="922.5" y="603.2">galR</text><text x="922.5" y="626.7">argR</text>
</g>
<g font-size="10.5" font-weight="bold" fill="#222" text-anchor="end">
<text transform="translate(709,642) rotate(-45)">Control-1</text>
<text transform="translate(734,642) rotate(-45)">Control-2</text>
<text transform="translate(759,642) rotate(-45)">Control-3</text>
<text transform="translate(784,642) rotate(-45)">Zn-1</text>
<text transform="translate(809,642) rotate(-45)">Zn-2</text>
<text transform="translate(834,642) rotate(-45)">Zn-3</text>
<text transform="translate(859,642) rotate(-45)">HT/Zn-2Cu-1</text>
<text transform="translate(884,642) rotate(-45)">HT/Zn-2Cu-2</text>
<text transform="translate(909,642) rotate(-45)">HT/Zn-2Cu-3</text>
</g>
<rect x="967" y="255" width="16" height="138" fill="url(#hm)"/>
<g stroke="#444" stroke-width="0.8">
<line x1="983" y1="255.5" x2="986" y2="255.5"/><line x1="983" y1="290" x2="986" y2="290"/><line x1="983" y1="324" x2="986" y2="324"/><line x1="983" y1="358.5" x2="986" y2="358.5"/><line x1="983" y1="392.5" x2="986" y2="392.5"/>
</g>
<g font-size="13" font-weight="bold" fill="#111">
<text x="985" y="261">-2</text><text x="985" y="295">-1</text><text x="990" y="330">0</text><text x="990" y="363">1</text><text x="990" y="398">2</text>
</g>
<rect x="657" y="688" width="16" height="15" fill="#13a355"/>
<text x="677" y="700" font-size="12" textLength="125" lengthAdjust="spacingAndGlyphs">Metabolism-related genes</text>
<rect x="845" y="688" width="15" height="15" fill="#e868a8"/>
<text x="866" y="700" font-size="12" textLength="131" lengthAdjust="spacingAndGlyphs">Cell envelope-related genes</text>
<rect x="657" y="716" width="16" height="15" fill="#f08c50"/>
<text x="677" y="727.5" font-size="12" textLength="161" lengthAdjust="spacingAndGlyphs">Transporter activity-related genes</text>
<rect x="845" y="713" width="15" height="15" fill="#ffff00"/>
<text x="866" y="725" font-size="12" textLength="143" lengthAdjust="spacingAndGlyphs">Oxidative stress-related genes</text>
<rect x="657" y="739" width="16" height="15" fill="#00ffff"/>
<text x="677" y="751" font-size="12" textLength="140" lengthAdjust="spacingAndGlyphs">DNA synthesis-related genes</text>
</svg>
</body></html>
